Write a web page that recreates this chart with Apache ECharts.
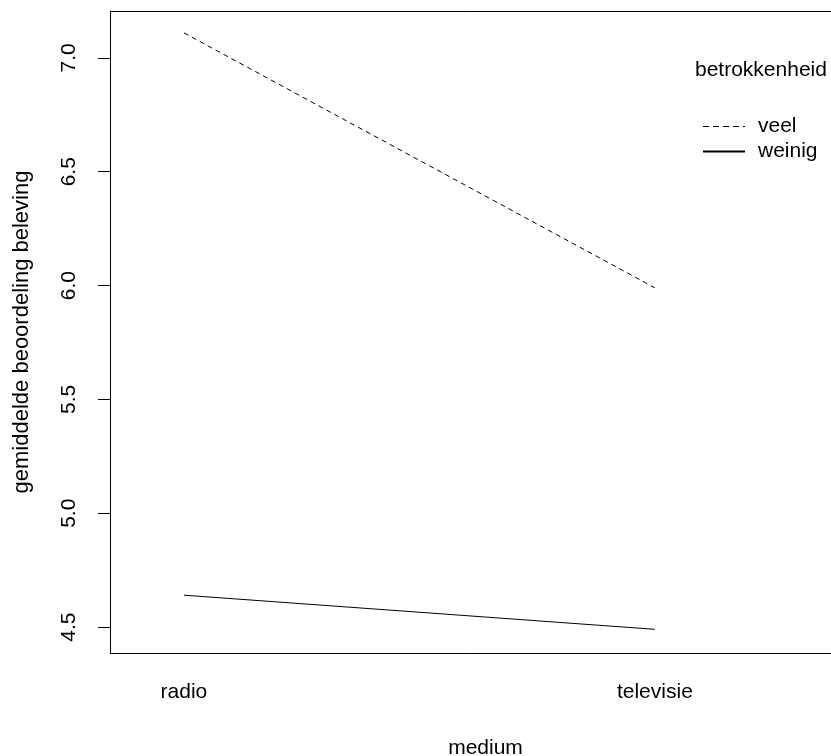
<!DOCTYPE html>
<html><head><meta charset="utf-8">
<script src="https://cdn.jsdelivr.net/npm/echarts@6/dist/echarts.min.js"></script>
<style>html,body{margin:0;padding:0;background:#fff}#c{width:831px;height:756px}</style>
</head><body><div id="c"></div>
<script>
const categories = ['radio', 'televisie'];
const groupNames = ['veel', 'weinig'];
const veel = [7.11, 5.99];
const weinig = [4.64, 4.49];
const yTicks = [4.5, 5.0, 5.5, 6.0, 6.5, 7.0];
const legendTitle = 'betrokkenheid';
const xTitle = 'medium';
const yTitle = 'gemiddelde beoordeling beleving';

const font = 'Liberation Sans, Arial, sans-serif';
const fs = 21;
const chart = echarts.init(document.getElementById('c'), null, {renderer: 'canvas'});
const xPos = categories.map((c, i) => i + 1);
chart.setOption({
  animation: false,
  backgroundColor: '#fff',
  title: {text: legendTitle, left: 690, top: 55, textStyle: {fontFamily: font, fontSize: fs, fontWeight: 'normal', color: '#000'}},
  legend: {
    orient: 'vertical', left: 697, top: 111, itemGap: 4, itemWidth: 42, itemHeight: 18,
    data: [{name: groupNames[0], lineStyle: {type: [6, 4], width: 1}}, {name: groupNames[1]}],
    itemStyle: {color: 'transparent', borderColor: 'transparent', borderWidth: 0},
    textStyle: {fontFamily: font, fontSize: fs, color: '#000', padding: [0,0,0,8]}
  },
  grid: {left: 110, right: -30, top: 11, bottom: 103, containLabel: false, outerBoundsMode: 'none', show: false},
  xAxis: {
    type: 'value', min: 0.843, max: 2.374 + 30/471,
    name: xTitle, nameLocation: 'middle', nameGap: 85,
    nameTextStyle: {fontFamily: font, fontSize: fs, color: '#000', align: 'center'},
    axisLine: {show: true, onZero: false, lineStyle: {color: '#000', width: 1}},
    axisTick: {show: false},
    splitLine: {show: false},
    axisLabel: {customValues: xPos, formatter: v => categories[Math.round(v) - 1] || '', margin: 29,
      fontFamily: font, fontSize: fs, color: '#000'}
  },
  yAxis: {
    type: 'value', min: 4.386, max: 7.206,
    name: yTitle, nameLocation: 'middle', nameGap: 77,
    nameTextStyle: {fontFamily: font, fontSize: 22, color: '#000'},
    axisLine: {show: true, onZero: false, lineStyle: {color: '#000', width: 1}},
    axisTick: {show: true, customValues: yTicks, length: 12, lineStyle: {color: '#000'}},
    splitLine: {show: false},
    axisLabel: {customValues: yTicks, formatter: v => v.toFixed(1), rotate: 90, margin: 30,
      fontFamily: font, fontSize: fs, color: '#000'}
  },
  graphic: [{type: 'line', shape: {x1: 110, y1: 11.5, x2: 831, y2: 11.5}, style: {stroke: '#000', lineWidth: 1}}],
  series: [
    {name: groupNames[0], type: 'line', symbol: 'none', data: xPos.map((x, i) => [x, veel[i]]),
      lineStyle: {color: '#000', width: 1, type: [5, 4]}, itemStyle: {color: '#000'}},
    {name: groupNames[1], type: 'line', symbol: 'none', data: xPos.map((x, i) => [x, weinig[i]]),
      lineStyle: {color: '#000', width: 1, type: 'solid'}, itemStyle: {color: '#000'}}
  ]
});
</script></body></html>
